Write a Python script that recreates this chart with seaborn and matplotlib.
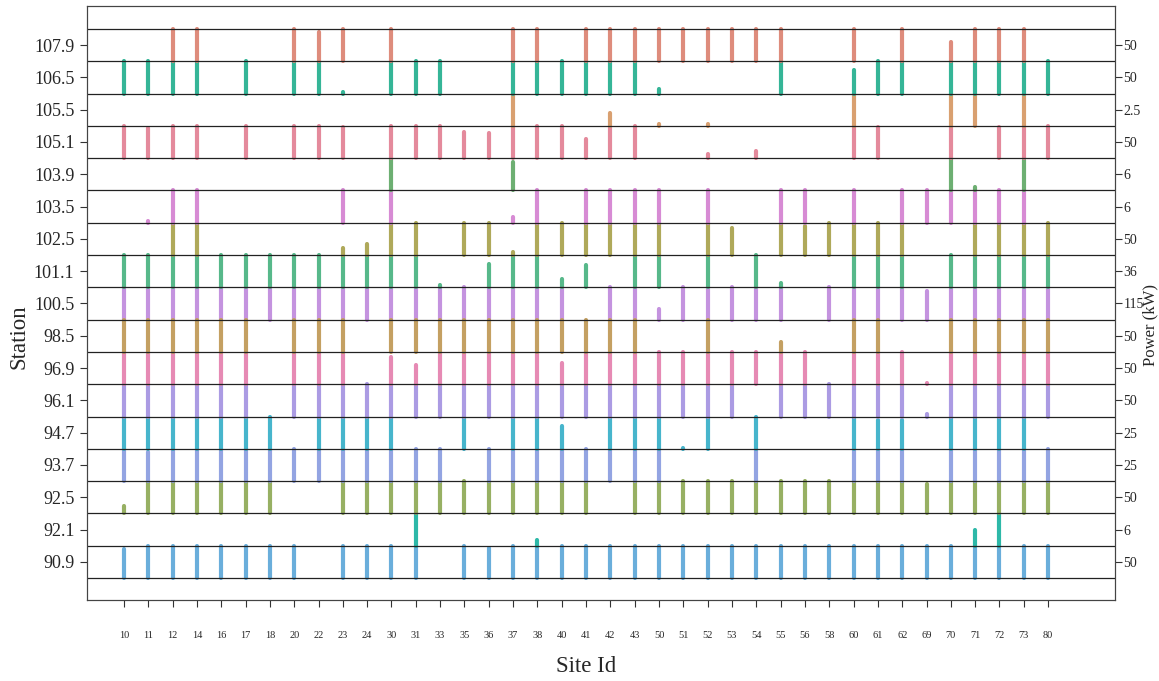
import numpy as np
import pandas as pd
import matplotlib
matplotlib.use("Agg")
import matplotlib.pyplot as plt
import seaborn as sns

# ---------------- data ----------------
sites = [10, 11, 12, 14, 16, 17, 18, 20, 22, 23,
         24, 30, 31, 33, 35, 36, 37, 38, 40, 41,
         42, 43, 50, 51, 52, 53, 54, 55, 56, 58,
         60, 61, 62, 69, 70, 71, 72, 73, 80]

# stations from bottom to top
stations = ["90.9", "92.1", "92.5", "93.7", "94.7", "96.1", "96.9", "98.5", "100.5",
            "101.1", "102.5", "103.5", "103.9", "105.1", "105.5", "106.5", "107.9"]
power_kw = ["50", "6", "50", "25", "25", "50", "50", "50", "115",
            "36", "50", "6", "6", "50", "2.5", "50", "50"]

N = None
# fraction of the row height per site (order of `sites`)
st_1079 = [N, N, 1, 1, N, N, N, 1, .92, 1,
           N, 1, N, N, N, N, 1, 1, N, 1,
           1, 1, 1, 1, 1, 1, 1, 1, N, N,
           1, N, 1, N, .61, 1, 1, 1, N]
st_1065 = [1, 1, 1, 1, N, 1, N, 1, 1, .05,
           N, 1, 1, 1, N, N, 1, 1, 1, 1,
           1, 1, .15, N, N, N, N, 1, N, N,
           .72, 1, 1, N, 1, 1, 1, 1, 1]
st_1055 = [N, N, N, N, N, N, N, N, N, N,
           N, N, N, N, N, N, 1, N, N, N,
           .39, N, .05, N, .07, N, N, N, N, N,
           1, N, N, N, 1, 1, N, 1, N]
st_1051 = [1, .94, 1, 1, N, 1, N, 1, 1, .97,
           N, 1, 1, 1, .8, .77, 1, 1, 1, .6,
           1, 1, N, N, .13, N, .22, N, N, N,
           1, .97, N, N, 1, N, .97, 1, 1]
st_1039 = [N, N, N, N, N, N, N, N, N, N,
           N, 1, N, N, N, N, .88, N, N, N,
           N, N, N, N, N, N, N, N, N, N,
           N, N, N, N, 1, .11, N, .94, N]
st_1035 = [N, .05, 1, 1, N, N, N, N, N, 1,
           N, 1, N, N, N, N, .19, 1, N, 1,
           1, 1, 1, N, 1, N, N, 1, 1, N,
           1, N, 1, 1, 1, 1, 1, 1, N]
st_1025 = [N, N, 1, 1, N, N, N, N, N, .21,
           .35, 1, 1, N, 1, 1, .08, 1, 1, 1,
           1, 1, 1, N, 1, .83, N, 1, .91, 1,
           1, 1, 1, N, N, 1, 1, 1, 1]
st_1011 = [1, 1, 1, 1, 1, 1, 1, 1, 1, 1,
           1, 1, 1, .06, N, .72, 1, 1, .26, .68,
           N, 1, 1, N, 1, N, 1, .13, N, N,
           1, 1, 1, N, 1, 1, 1, 1, 1]
st_1005 = [1, 1, 1, 1, 1, 1, 1, 1, 1, 1,
           1, 1, 1, 1, 1, 1, 1, 1, 1, N,
           1, 1, .33, 1, 1, 1, 1, 1, N, 1,
           1, 1, 1, .9, 1, 1, 1, 1, 1]
st_985 = [1, 1, 1, 1, 1, 1, N, 1, 1, 1,
          N, 1, 1, 1, 1, 1, 1, 1, 1, 1,
          1, 1, N, N, 1, N, N, .31, N, N,
          1, 1, N, N, 1, 1, 1, 1, 1]
st_969 = [1, 1, 1, 1, 1, 1, N, 1, 1, 1,
          N, .84, .61, 1, 1, 1, 1, 1, .66, 1,
          1, 1, 1, 1, 1, 1, 1, 1, 1, N,
          1, 1, 1, .04, 1, 1, 1, 1, 1]
st_961 = [1, 1, 1, 1, 1, 1, N, 1, 1, 1,
          1, 1, 1, 1, 1, 1, 1, 1, 1, 1,
          1, 1, 1, 1, 1, 1, N, 1, 1, 1,
          1, 1, 1, .08, 1, 1, 1, 1, 1]
st_947 = [1, 1, 1, 1, 1, 1, 1, N, 1, 1,
          1, 1, N, N, 1, N, 1, 1, .72, N,
          1, 1, 1, .03, 1, N, 1, N, N, N,
          1, .9, .9, N, 1, 1, 1, 1, N]
st_937 = [1, .9, 1, 1, 1, 1, 1, 1, 1, 1,
          1, 1, 1, 1, N, 1, 1, 1, 1, 1,
          1, 1, 1, N, N, N, 1, N, N, N,
          1, 1, 1, N, 1, 1, 1, 1, 1]
st_925 = [.24, 1, 1, 1, 1, 1, 1, N, N, 1,
          1, 1, 1, 1, 1, 1, 1, 1, 1, 1,
          N, 1, 1, 1, 1, 1, 1, 1, 1, 1,
          1, 1, 1, .92, 1, 1, 1, 1, 1]
st_921 = [N, N, N, N, N, N, N, N, N, N,
          N, N, 1, N, N, N, N, .18, N, N,
          N, N, N, N, N, N, N, N, N, N,
          N, N, N, N, N, .49, 1, N, N]
st_909 = [.9, 1, 1, 1, 1, 1, 1, 1, N, 1,
          1, 1, 1, N, 1, .93, 1, 1, 1, 1,
          1, 1, 1, 1, 1, 1, 1, 1, 1, 1,
          1, 1, 1, 1, 1, 1, 1, 1, 1]

rows = [st_909, st_921, st_925, st_937, st_947, st_961, st_969, st_985, st_1005,
        st_1011, st_1025, st_1035, st_1039, st_1051, st_1055, st_1065, st_1079]

colors = ["#6AAEDB", "#2DB8A8", "#97B063", "#93A4E2", "#47B5CC", "#AB9BE3", "#E68AB4",
          "#C4A062", "#C493DF", "#57B88A", "#AFA95A", "#D78BD4", "#6DAF72", "#E48A9C",
          "#D9A070", "#35B597", "#DE8C7C"]

records = []
for st, vals in zip(stations, rows):
    for site, v in zip(sites, vals):
        if v is not None:
            records.append({"station": st, "site": site, "value": v})
df = pd.DataFrame(records)
df["row"] = pd.Categorical(df["station"], categories=stations, ordered=True).codes
df["xpos"] = pd.Categorical(df["site"], categories=sites, ordered=True).codes

# ---------------- plot ----------------
sns.set_theme(style="white")
plt.rcParams["font.family"] = ["Liberation Serif", "DejaVu Serif"]

fig = plt.figure(figsize=(11.59, 6.81), dpi=100)
ax = fig.add_axes([87 / 1159, 81 / 681, 1028 / 1159, 594 / 681])
pal = dict(zip(stations, colors))

for st, g in df.groupby("station", observed=True):
    lc = ax.vlines(g["xpos"], g["row"], g["row"] + g["value"], colors=pal[st],
                   linewidth=3.0, zorder=2)
    lc.set_capstyle("round")

ax.hlines(np.arange(len(stations) + 1), -5, len(sites) + 5, colors="#222222",
          linewidth=0.9, zorder=3)

ax.set_xlim(-1.52, 40.75)
ax.set_ylim(-0.68, 17.71)

ax.set_xticks(range(len(sites)))
ax.set_xticklabels([str(s) for s in sites], fontsize=7.5)
ax.set_yticks(np.arange(len(stations)) + 0.5)
ax.set_yticklabels(stations, fontsize=13)
ax.tick_params(axis="x", direction="out", length=5, width=0.8, color="#333333", pad=17,
               bottom=True)
ax.tick_params(axis="y", direction="out", length=5, width=0.8, color="#333333", pad=4,
               left=True)

ax2 = ax.twinx()
ax2.set_ylim(ax.get_ylim())
ax2.set_yticks(np.arange(len(stations)) + 0.5)
ax2.set_yticklabels(power_kw, fontsize=10)
ax2.tick_params(axis="y", direction="out", length=5, width=0.8, color="#333333", pad=1,
                right=True)

for a in (ax, ax2):
    for sp in a.spines.values():
        sp.set_color("#444444")
        sp.set_linewidth(0.8)

ax.set_xlabel("Site Id", fontsize=16.5)
ax.xaxis.set_label_coords((586 - 87) / 1028, -0.095)
ax.set_ylabel("Station", fontsize=16.5)
ax.yaxis.set_label_coords(-0.056, 0.443)
ax2.set_ylabel("Power (kW)", fontsize=12)
ax2.yaxis.set_label_coords(1.0268, 0.463)

fig.savefig("out.png", dpi=100)
